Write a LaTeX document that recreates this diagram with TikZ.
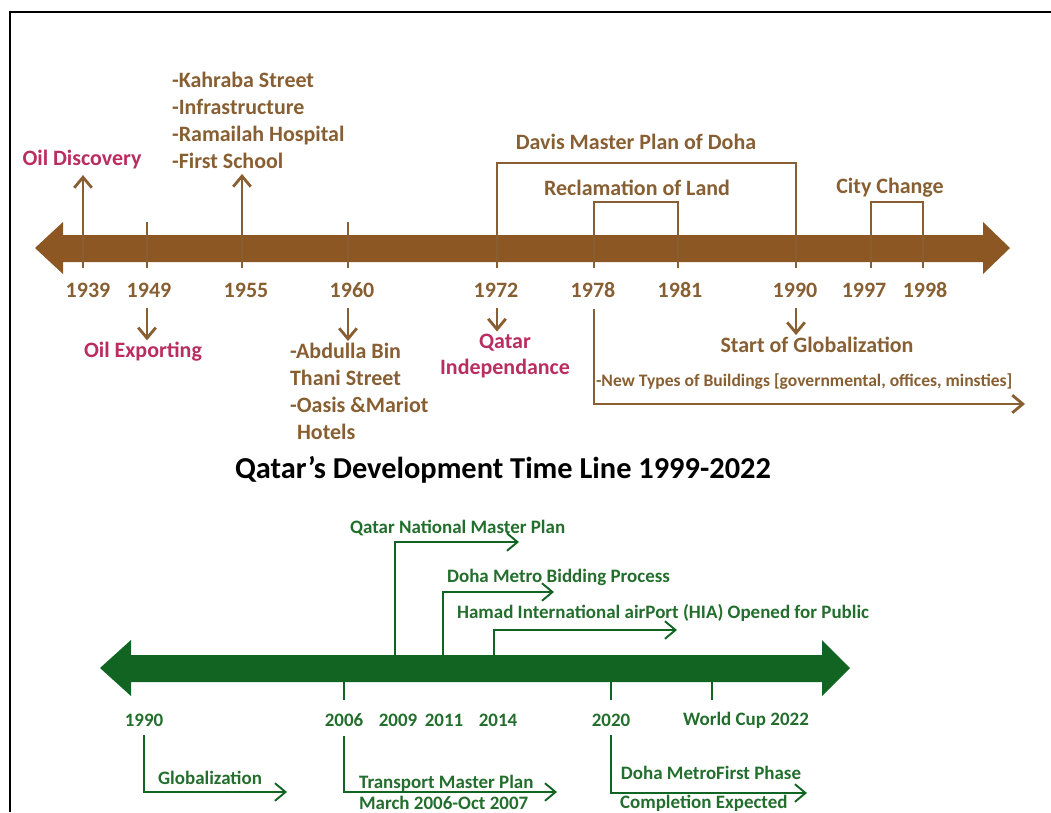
\documentclass[tikz,border=0pt]{standalone}
\usepackage{fontspec}
\setmainfont{Carlito}
\usepackage{tikz}
\usetikzlibrary{arrows.meta}

\definecolor{tlbrown}{RGB}{140,87,35}
\definecolor{txtbrown}{RGB}{135,95,50}
\definecolor{evpink}{RGB}{185,45,95}
\definecolor{tlgreen}{RGB}{18,100,35}
\definecolor{txtgreen}{RGB}{35,110,45}

\tikzset{
    toplbl/.style={font=\bfseries\fontsize{12.5}{15.3}\selectfont, inner sep=1pt},
    brownlbl/.style={toplbl, text=txtbrown},
    pinklbl/.style={toplbl, text=evpink},
    greenlbl/.style={font=\bfseries\fontsize{10.8}{12}\selectfont, text=txtgreen, inner sep=1pt},
    brline/.style={draw=txtbrown, line width=1.6pt},
    grline/.style={draw=tlgreen, line width=1.1pt}}

\begin{document}
\begin{tikzpicture}[x=0.02cm, y=-0.02cm, >={Straight Barb[length=6pt,width=10pt]}]
        \useasboundingbox (0,0) rectangle (1051,812);
        \draw[line width=1.7pt] (10,812) -- (10,12) -- (1051,12);

        % 1939 - 1998
        \fill[tlbrown] (35,248) -- (63,222) -- (63,235) -- (983,235) -- (983,222) -- (1010,248)
            -- (983,274) -- (983,262) -- (63,262) -- (63,274) -- cycle;

        \coordinate (t1939) at (83,268);
        \coordinate (t1949) at (147,268);
        \coordinate (t1955) at (242,268);
        \coordinate (t1960) at (348,268);
        \coordinate (t1972) at (497,268);
        \coordinate (t1978) at (594,268);
        \coordinate (t1981) at (678,268);
        \coordinate (t1990) at (796,268);
        \coordinate (t1997) at (871,268);
        \coordinate (t1998) at (923,268);
        \coordinate (bldend) at (1025,404);

        \node[brownlbl] (y1939) at (88,290) {1939};
        \node[brownlbl] (y1949) at (149,290) {1949};
        \node[brownlbl] (y1955) at (246,290) {1955};
        \node[brownlbl] (y1960) at (352,290) {1960};
        \node[brownlbl] (y1972) at (496,290) {1972};
        \node[brownlbl] (y1978) at (593,290) {1978};
        \node[brownlbl] (y1981) at (680,290) {1981};
        \node[brownlbl] (y1990) at (795,290) {1990};
        \node[brownlbl] (y1997) at (864,290) {1997};
        \node[brownlbl] (y1998) at (925,290) {1998};

        \node[pinklbl] (disc) at (82,160) {Oil Discovery};
        \node[brownlbl, align=left, anchor=north west] (infra) at (170,70)
            {-Kahraba Street\\-Infrastructure\\-Ramailah Hospital\\-First School};
        \node[brownlbl] (davis) at (636,142) {Davis Master Plan of Doha};
        \node[brownlbl] (reclaim) at (637,188) {Reclamation of Land};
        \node[brownlbl] (citych) at (890,188) {City Change};

        \node[pinklbl] (oilexp) at (143,352) {Oil Exporting};
        \node[brownlbl, align=left, anchor=north west] (hotels) at (288,341)
            {-Abdulla Bin\\Thani Street\\-Oasis \&Mariot\\\hspace*{4pt}Hotels};
        \node[pinklbl, align=center] (indep) at (505,356) {Qatar\\Independance};
        \node[brownlbl] (glob) at (817,345) {Start of Globalization};
        \node[brownlbl, font=\bfseries\fontsize{10}{12}\selectfont, anchor=west] (newbld) at (594,382)
            {-New Types of Buildings [governmental, offices, minsties]};

        \foreach \t in {t1949,t1960}
            \draw[brline] (\t) -- (\t |- 0,222);
        \draw[brline] (t1972) -- (t1972 |- 0,163) -| (t1990);
        \draw[brline] (t1978) -- (t1978 |- 0,202) -| (t1981);
        \draw[brline] (t1997) -- (t1997 |- 0,202) -| (t1998);
        \draw[brline, ->, shorten >=2pt] (t1939) -- (t1939 |- disc.south);
        \draw[brline, ->, shorten >=2pt] (t1955) -- (t1955 |- infra.south);

        \draw[brline, ->, shorten <=5pt] (t1949 |- y1949.south) -- (t1949 |- oilexp.north);
        \draw[brline, ->, shorten <=5pt] (t1960 |- y1960.south) -- (t1960 |- hotels.north);
        \draw[brline, ->, shorten <=5pt] (t1972 |- y1972.south) -- (t1972 |- indep.north);
        \draw[brline, ->, shorten <=5pt] (t1990 |- y1990.south) -- (t1990 |- glob.north);
        \draw[brline, ->, shorten <=5pt] (t1978 |- y1978.south) |- (bldend);

        \node[font=\bfseries\fontsize{17.3}{20}\selectfont] (title) at (503,470)
            {Qatar’s Development Time Line 1999-2022};

        % 1990 - 2022
        \fill[tlgreen] (100,668) -- (131,640) -- (131,655) -- (822,655) -- (822,640) -- (850,668)
            -- (822,696) -- (822,682) -- (131,682) -- (131,696) -- cycle;

        \coordinate (g2006) at (344,668);
        \coordinate (g2009) at (395,668);
        \coordinate (g2011) at (443,668);
        \coordinate (g2014) at (494,668);
        \coordinate (g2020) at (611,668);
        \coordinate (g2022) at (712,668);
        \coordinate (qnmpend) at (519,542);
        \coordinate (dmbpend) at (554,592);
        \coordinate (hiaend) at (677,630);
        \coordinate (globend) at (287,792);
        \coordinate (tmpend) at (557,792);
        \coordinate (dmfpend) at (807,793);

        \node[greenlbl] (gy1990) at (144,720) {1990};
        \node[greenlbl] (gy2006) at (344,720) {2006};
        \node[greenlbl] (gy2009) at (398,720) {2009};
        \node[greenlbl] (gy2011) at (444,720) {2011};
        \node[greenlbl] (gy2014) at (498,720) {2014};
        \node[greenlbl] (gy2020) at (611,720) {2020};
        \node[greenlbl] (gy2022) at (746,720) {World Cup 2022};

        \node[greenlbl, anchor=west] (qnmp) at (348,528) {Qatar National Master Plan};
        \node[greenlbl, anchor=west] (dmbp) at (445,577) {Doha Metro Bidding Process};
        \node[greenlbl, anchor=west] (hia) at (455,613) {Hamad International airPort (HIA) Opened for Public};
        \node[greenlbl, anchor=west] (globz) at (156,778) {Globalization};
        \node[greenlbl, anchor=west] (tmp) at (357,783) {Transport Master Plan};
        \node[greenlbl, anchor=west] (tmpdate) at (357,803) {March 2006-Oct 2007};
        \node[greenlbl] (dmfp) at (711,773) {Doha MetroFirst Phase};
        \node[greenlbl, anchor=west] (dmfpdate) at (618,803) {Completion Expected};

        \foreach \g in {g2006,g2020,g2022}
            \draw[grline] (\g) -- (\g |- 0,700);
        \draw[grline, ->] (g2009) |- (qnmpend);
        \draw[grline, ->] (g2011) |- (dmbpend);
        \draw[grline, ->] (g2014) |- (hiaend);
        \draw[grline, ->, shorten <=4pt] (gy1990) |- (globend);
        \draw[grline, ->, shorten <=4pt] (gy2006) |- (tmpend);
        \draw[grline, ->, shorten <=4pt] (gy2020) |- (dmfpend);

\end{tikzpicture}
\end{document}
